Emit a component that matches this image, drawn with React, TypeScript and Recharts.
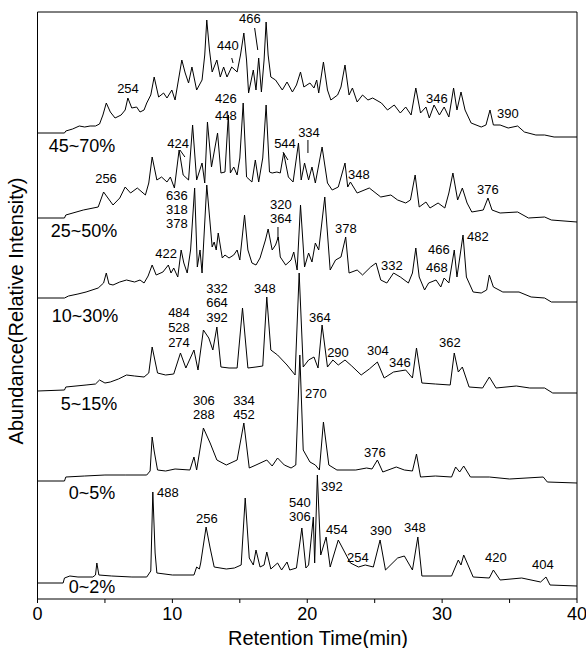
import React from "react";
import {
  ComposedChart,
  Line,
  Scatter,
  XAxis,
  YAxis,
  ReferenceLine,
} from "recharts";

const FONT = '"Liberation Sans", Arial, sans-serif';

// retention time (min), relative intensity above each trace's own baseline
const TRACE_45_70: [number, number][] = [
  [0, 0], [2.0, 0], [2.1, 2], [2.6, 4], [3.1, 7], [3.5, 6], [3.9, 7], [4.3, 7], [4.6, 9], [4.85, 18],
  [5.1, 30], [5.4, 21], [5.75, 15], [6.2, 18], [6.5, 23], [6.7, 35], [6.99, 25], [7.35, 26], [7.6, 21],
  [7.9, 23], [8.1, 30], [8.4, 38], [8.65, 56], [8.98, 36], [9.35, 40], [9.6, 35], [9.96, 43], [10.2, 33],
  [10.45, 53], [10.7, 73], [10.95, 60], [11.2, 50], [11.45, 66], [11.8, 43], [12.2, 53], [12.4, 78],
  [12.55, 113], [12.75, 83], [12.95, 61], [13.3, 73], [13.55, 56], [13.8, 66], [14.05, 56], [14.4, 66],
  [14.8, 61], [15.05, 78], [15.3, 100], [15.5, 73], [15.65, 40], [16.0, 63], [16.2, 43], [16.4, 75],
  [16.6, 41], [16.8, 73], [16.95, 111], [17.1, 78], [17.3, 56], [17.65, 53], [18.15, 43], [18.5, 51],
  [18.9, 41], [19.2, 48], [19.5, 61], [19.75, 46], [20.2, 50], [20.5, 45], [20.7, 53], [20.85, 40],
  [21.2, 71], [21.5, 43], [21.75, 33], [22.25, 38], [22.5, 46], [22.8, 68], [23.1, 38], [23.35, 45],
  [23.7, 31], [24.1, 38], [24.5, 33], [24.85, 35], [25.5, 30], [25.95, 23], [26.45, 28], [26.9, 20],
  [27.3, 26], [27.7, 18], [28.05, 45], [28.4, 20], [28.8, 26], [29.05, 15], [29.4, 28], [29.8, 18],
  [30.15, 26], [30.5, 16], [30.85, 45], [31.1, 23], [31.4, 41], [31.7, 23], [32.15, 10], [32.9, 6],
  [33.25, 8], [33.55, 23], [33.8, 8], [34.3, 8], [34.9, 5], [35.6, 7], [36.1, 1], [36.95, -2],
  [37.6, -2], [38.3, -4], [40, -4],
];

const TRACE_25_50: [number, number][] = [
  [0, 0], [2.0, 0], [2.1, 3], [3.4, 8], [4.5, 11], [4.9, 26], [5.6, 13], [6.1, 20], [6.5, 31], [6.9, 25],
  [7.4, 30], [8.0, 23], [8.25, 35], [8.5, 61], [8.85, 38], [9.2, 41], [9.6, 36], [9.85, 41], [10.15, 30],
  [10.5, 68], [10.8, 43], [11.2, 38], [11.5, 93], [11.8, 38], [12.2, 55], [12.4, 35], [12.6, 96],
  [12.9, 51], [13.35, 85], [13.6, 45], [13.9, 46], [14.15, 103], [14.3, 45], [14.55, 51], [14.8, 43],
  [15.0, 60], [15.25, 115], [15.5, 41], [15.9, 36], [16.15, 58], [16.4, 36], [16.7, 60], [16.95, 113],
  [17.2, 46], [17.4, 45], [17.75, 46], [18.0, 45], [18.25, 65], [18.6, 41], [18.95, 36], [19.35, 75],
  [19.55, 38], [19.8, 55], [20.1, 38], [20.35, 51], [20.6, 35], [21.1, 71], [21.5, 35], [21.85, 28],
  [22.3, 31], [22.8, 55], [23.0, 31], [23.2, 36], [23.7, 25], [24.6, 30], [25.45, 21], [26.2, 23],
  [26.7, 18], [27.3, 15], [27.65, 18], [28.0, 43], [28.3, 11], [28.8, 16], [29.1, 10], [29.7, 15],
  [30.2, 10], [30.5, 25], [30.8, 45], [31.15, 18], [31.5, 30], [31.85, 15], [32.2, 6], [33.05, 8],
  [33.4, 20], [33.7, 8], [34.3, 5], [35.6, 6], [36.4, 0], [37.6, 1], [38.1, -2], [40, -4],
];

const TRACE_10_30: [number, number][] = [
  [0, 0], [2.0, 0], [2.3, 2], [3.0, 4], [3.6, 6], [4.5, 10], [4.9, 15], [5.1, 25], [5.3, 14], [5.6, 13],
  [6.1, 16], [6.6, 18], [7.2, 16], [7.6, 18], [7.9, 15], [8.2, 22], [8.5, 33], [8.8, 23], [9.3, 26],
  [9.7, 33], [9.9, 25], [10.1, 30], [10.4, 21], [10.65, 48], [10.85, 35], [11.1, 25], [11.35, 48],
  [11.65, 110], [11.85, 31], [12.05, 48], [12.2, 25], [12.55, 113], [12.95, 51], [13.1, 56], [13.25, 48],
  [13.4, 65], [13.7, 40], [13.9, 43], [14.2, 40], [14.55, 43], [14.8, 48], [15.0, 38], [15.35, 83],
  [15.6, 48], [15.9, 35], [16.2, 33], [16.5, 40], [16.9, 58], [17.1, 69], [17.4, 48], [17.65, 53],
  [17.85, 61], [18.0, 41], [18.4, 33], [18.8, 38], [19.0, 46], [19.25, 28], [19.5, 93], [19.8, 31],
  [20.1, 45], [20.35, 36], [20.6, 55], [20.85, 48], [21.3, 101], [21.7, 28], [22.1, 38], [22.5, 41],
  [22.85, 61], [23.1, 25], [23.7, 28], [24.1, 23], [24.7, 31], [25.1, 35], [25.45, 18], [25.9, 15],
  [26.4, 25], [26.9, 21], [27.5, 15], [27.8, 25], [28.05, 50], [28.3, 21], [28.7, 8], [29.0, 15],
  [29.55, 18], [29.9, 11], [30.15, 20], [30.5, 15], [30.9, 48], [31.1, 21], [31.55, 63], [31.8, 21],
  [32.3, 6], [32.9, 5], [33.3, 8], [33.5, 23], [33.8, 11], [34.5, 6], [35.7, 6], [36.6, 1], [37.6, 0],
  [38.1, -4], [40, -4],
];

const TRACE_5_15: [number, number][] = [
  [0, 0], [2.0, 1], [2.1, 4], [3.6, 6], [4.3, 7], [4.6, 11], [5.0, 8], [5.4, 9], [6.0, 12], [6.6, 16],
  [7.2, 15], [7.9, 14], [8.25, 18], [8.5, 44], [8.9, 18], [9.5, 16], [10.1, 17], [10.6, 38], [11.0, 23],
  [11.6, 41], [11.9, 21], [12.3, 61], [12.7, 53], [13.0, 41], [13.3, 64], [13.6, 24], [14.2, 23],
  [14.8, 23], [15.2, 83], [15.6, 23], [16.2, 24], [16.7, 25], [17.0, 94], [17.3, 41], [17.8, 36],
  [18.5, 26], [19.1, 16], [19.4, 118], [19.7, 24], [20.1, 31], [20.5, 34], [20.8, 23], [21.1, 66],
  [21.5, 24], [21.9, 31], [22.3, 26], [22.8, 31], [23.3, 25], [24.0, 16], [24.6, 22], [25.2, 29],
  [25.7, 13], [26.4, 19], [27.3, 21], [27.8, 13], [28.1, 43], [28.5, 8], [29.5, 7], [30.6, 6],
  [30.9, 38], [31.2, 19], [31.5, 24], [32.0, 4], [33.0, 3], [33.5, 14], [34.0, 3], [35.5, 5], [36.5, 3],
  [37.6, 3], [38.2, -2], [40, -2],
];

const TRACE_0_5: [number, number][] = [
  [0, 0], [2.0, 0], [2.1, 4], [3.5, 5], [5.0, 6], [6.5, 6], [8.1, 6], [8.35, 10], [8.5, 44], [8.65, 30],
  [8.9, 11], [9.5, 10], [10.2, 12], [11.3, 11], [11.6, 24], [11.8, 11], [12.3, 53], [12.8, 38],
  [13.3, 21], [14.0, 16], [14.8, 21], [15.3, 58], [15.7, 13], [16.2, 16], [17.0, 21], [17.4, 15],
  [17.8, 23], [18.3, 16], [18.8, 13], [19.15, 16], [19.45, 126], [19.7, 31], [20.2, 19], [20.6, 16],
  [20.9, 11], [21.2, 59], [21.6, 16], [22.2, 11], [23.6, 11], [24.4, 13], [24.8, 12], [25.2, 21],
  [25.6, 9], [26.6, 14], [27.2, 11], [27.8, 10], [28.1, 27], [28.4, 4], [29.5, 5], [30.7, 4], [31.0, 14],
  [31.3, 9], [31.6, 15], [32.1, 4], [33.5, 4], [35.0, 2], [37.5, 4], [37.8, -1], [40, -2],
];

const TRACE_0_2: [number, number][] = [
  [0, 0], [1.9, 0], [2.0, 5], [2.4, 7], [3.0, 6], [4.1, 6], [4.3, 8], [4.4, 20], [4.55, 8], [5.5, 7],
  [7.0, 6], [8.1, 6], [8.4, 12], [8.55, 91], [8.72, 30], [8.85, 10], [10.0, 8], [11.6, 8], [11.8, 16],
  [12.0, 14], [12.1, 20], [12.5, 56], [12.8, 35], [13.1, 16], [14.0, 14], [14.6, 15], [15.1, 18],
  [15.4, 85], [15.7, 25], [16.0, 18], [16.2, 33], [16.5, 16], [16.8, 18], [17.0, 31], [17.3, 14],
  [17.8, 20], [18.1, 13], [18.5, 21], [18.7, 13], [19.2, 15], [19.6, 55], [19.9, 15], [20.1, 18],
  [20.45, 66], [20.55, 20], [20.75, 108], [21.0, 28], [21.4, 46], [21.7, 16], [22.3, 43], [23.2, 20],
  [23.8, 16], [24.3, 18], [24.9, 16], [25.4, 43], [25.8, 13], [26.7, 25], [27.2, 27], [27.8, 13],
  [28.2, 46], [28.5, 7], [30.7, 7], [31.2, 23], [31.4, 18], [31.6, 28], [32.3, 6], [33.5, 5], [33.8, 13],
  [34.3, 3], [35.9, 5], [37.3, 1], [37.7, 6], [38.0, -2], [40, -3],
];

const TRACES = [TRACE_45_70, TRACE_25_50, TRACE_10_30, TRACE_5_15, TRACE_0_5, TRACE_0_2];
const TRACE_NAMES = ["45~70%", "25~50%", "10~30%", "5~15%", "0~5%", "0~2%"];
// vertical offset of each trace in the stack
const OFFSETS = [466, 381, 301, 208, 118, 16];
// where each fraction name sits: [time, height]
const NAME_AT: [number, number][] = [
  [3.3, 453], [3.45, 368], [3.52, 283], [3.82, 195], [4.04, 106], [4.04, 12],
];

// peak annotations (m/z): [text, time, height]
const PEAK_LABELS: [string, number, number][] = [
  ["254", 6.71, 511], ["440", 14.12, 554], ["466", 15.75, 581], ["346", 29.61, 501], ["390", 34.88, 486],
  ["426", 13.97, 501], ["448", 13.97, 484], ["424", 10.42, 456], ["544", 18.35, 456], ["334", 20.13, 467],
  ["256", 5.08, 421], ["348", 23.83, 425], ["376", 33.39, 410],
  ["636", 10.34, 404], ["318", 10.34, 390], ["378", 10.34, 376], ["320", 18.05, 395], ["364", 18.05, 381],
  ["422", 9.53, 346], ["378", 22.87, 371], ["332", 26.28, 334], ["466", 29.76, 350], ["468", 29.61, 332],
  ["482", 32.65, 363],
  ["332", 13.31, 311], ["664", 13.31, 297], ["392", 13.31, 282], ["484", 10.49, 287], ["528", 10.49, 272],
  ["274", 10.49, 257], ["348", 16.86, 311], ["364", 20.94, 282], ["290", 22.28, 247], ["304", 25.24, 249],
  ["346", 26.87, 237], ["362", 30.58, 257],
  ["306", 12.34, 199], ["288", 12.34, 185], ["334", 15.31, 199], ["452", 15.31, 185], ["270", 20.64, 206],
  ["376", 25.02, 147],
  ["488", 9.67, 107], ["256", 12.56, 81], ["540", 19.46, 97], ["306", 19.46, 83], ["392", 21.83, 113],
  ["454", 22.2, 70], ["254", 23.76, 42], ["390", 25.46, 69], ["348", 27.98, 72], ["420", 33.99, 42],
  ["404", 37.47, 35],
];

// short leader lines from labels to peaks: [t1, h1, t2, h2]
const POINTERS: [number, number, number, number][] = [
  [14.4, 541, 14.5, 536],
  [16.1, 571, 16.33, 549],
  [10.56, 449, 10.93, 442],
  [18.2, 447, 18.57, 439],
  [20.05, 459, 20.05, 446],
  [17.83, 372, 17.83, 359],
];

const X_TICKS = [0, 5, 10, 15, 20, 25, 30, 35, 40];

const peakData = PEAK_LABELS.map(([text, t, v]) => ({ t, v, text }));
const nameData = TRACE_NAMES.map((text, i) => ({ t: NAME_AT[i][0], v: NAME_AT[i][1], text }));

const textShape = (size: number) => (props: any) => (
  <text
    x={props.cx}
    y={props.cy}
    textAnchor="middle"
    dominantBaseline="central"
    fontFamily={FONT}
    fontSize={size}
    fill="#000"
  >
    {props.payload.text}
  </text>
);

export default function App() {
  return (
    <div style={{ position: "absolute", left: 0, top: 0, background: "#fff" }}>
      <ComposedChart
        width={586}
        height={648}
        margin={{ top: 12, right: 9, bottom: 0, left: 0 }}
      >
        <XAxis
          dataKey="t"
          type="number"
          domain={[0, 40]}
          ticks={X_TICKS}
          interval={0}
          allowDataOverflow
          tickFormatter={(v: number) => (v % 10 === 0 ? String(v) : "")}
          tickSize={4}
          tickMargin={4}
          height={49}
          stroke="#000"
          tick={{ fill: "#000", fontSize: 18, fontFamily: FONT }}
          label={{
            content: () => (
              <text x={318} y={645} textAnchor="middle" fontFamily={FONT} fontSize={20} fill="#000">
                Retention Time(min)
              </text>
            ),
          }}
        />
        <YAxis
          type="number"
          domain={[0, 587]}
          allowDataOverflow
          tick={false}
          tickLine={false}
          width={37.5}
          stroke="#000"
          label={{
            content: () => (
              <text
                x={23}
                y={311}
                transform="rotate(-90 23 311)"
                textAnchor="middle"
                fontFamily={FONT}
                fontSize={20}
                fill="#000"
              >
                Abundance(Relative Intensity)
              </text>
            ),
          }}
        />
        <ReferenceLine y={587} stroke="#000" strokeWidth={1} />
        <ReferenceLine x={40} stroke="#000" strokeWidth={1} />
        {TRACES.map((trace, i) => (
          <Line
            key={TRACE_NAMES[i]}
            data={trace.map(([t, v]) => ({ t, v: v + OFFSETS[i] }))}
            dataKey="v"
            type="linear"
            stroke="#000"
            strokeWidth={1}
            dot={false}
            activeDot={false}
            isAnimationActive={false}
          />
        ))}
        {POINTERS.map(([t1, h1, t2, h2], i) => (
          <ReferenceLine
            key={"p" + i}
            segment={[{ x: t1, y: h1 }, { x: t2, y: h2 }]}
            stroke="#000"
            strokeWidth={1}
          />
        ))}
        <Scatter data={peakData} dataKey="v" shape={textShape(13)} isAnimationActive={false} />
        <Scatter data={nameData} dataKey="v" shape={textShape(18)} isAnimationActive={false} />
      </ComposedChart>
    </div>
  );
}
